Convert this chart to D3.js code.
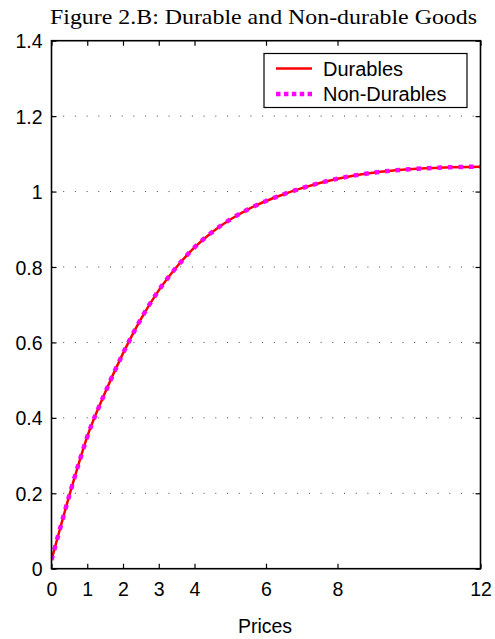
<!DOCTYPE html>
<html><head><meta charset="utf-8">
<script src="https://cdn.jsdelivr.net/npm/d3@7"></script>
<style>body{margin:0;background:#fff}svg{display:block}</style>
</head><body>
<svg id="c" width="495" height="639"></svg>
<script>
const prices = [0,0.25,0.5,0.75,1,1.5,2,2.5,3,3.5,4,4.5,5,5.5,6,6.5,7,8,9,10,11,12];
const durables = [0.023,0.11,0.195,0.275,0.35,0.467,0.571,0.662,0.738,0.800,0.852,0.893,0.926,0.953,0.975,0.993,1.009,1.034,1.050,1.059,1.064,1.066];
const nonDurables = [0.023,0.11,0.195,0.275,0.35,0.467,0.571,0.662,0.738,0.800,0.852,0.893,0.926,0.953,0.975,0.993,1.009,1.034,1.050,1.059,1.064,1.066];
const xTicks = [0,1,2,3,4,6,8,12];
const yTicks = [0,0.2,0.4,0.6,0.8,1,1.2,1.4];
const title = "Figure 2.B: Durable and Non-durable Goods";
const xLabel = "Prices";
const seriesNames = ["Durables","Non-Durables"];

const svg = d3.select("#c");
const L=51.5, R=480.5, T=40.7, B=568.7;
const x = d3.scaleLinear().domain([0,12]).range([L,R]);
const y = d3.scaleLinear().domain([0,1.4]).range([B,T]);
const sans = "'Liberation Sans', Arial, sans-serif";

// grid
svg.append("g").selectAll("line").data(yTicks.filter(v=>v>0&&v<1.4)).join("line")
  .attr("x1",L).attr("x2",R).attr("y1",d=>y(d)).attr("y2",d=>y(d))
  .attr("stroke","#444").attr("stroke-width",1).attr("stroke-dasharray","1,10.7");

// clip
svg.append("clipPath").attr("id","clip").append("rect")
  .attr("x",L).attr("y",T).attr("width",R-L).attr("height",B-T);

const line = d3.line().x(d=>x(d[0])).y(d=>y(d[1])).curve(d3.curveMonotoneX);
svg.append("path").datum(prices.map((p,i)=>[p,durables[i]]))
  .attr("d",line).attr("fill","none").attr("stroke","#ff0000").attr("stroke-width",2.5)
  .attr("clip-path","url(#clip)");
svg.append("path").datum(prices.map((p,i)=>[p,nonDurables[i]]))
  .attr("d",line).attr("fill","none").attr("stroke","#ff00ff").attr("stroke-width",4.5)
  .attr("stroke-dasharray","4.5,6").attr("clip-path","url(#clip)");

// axes
const ax = svg.append("g");
const tl=5;
const axB = d3.axisBottom(x).tickValues(xTicks).tickSize(-tl).tickPadding(13).tickFormat(d3.format("d"));
const axT = d3.axisTop(x).tickValues(xTicks).tickSize(-tl).tickFormat("");
const axL = d3.axisLeft(y).tickValues(yTicks).tickSize(-tl).tickPadding(9).tickFormat(d=>d3.format("")(+d.toFixed(1)));
const axR = d3.axisRight(y).tickValues(yTicks).tickSize(-tl).tickFormat("");
function style(g){
  g.select(".domain").remove();
  g.selectAll(".tick line").attr("stroke","#000").attr("stroke-width",1.2);
  g.selectAll("text").attr("font-family",sans).attr("font-size",19.5).attr("fill","#000");
}
ax.append("g").attr("transform",`translate(0,${B})`).call(axB).call(style).selectAll("text").attr("dy","0.75em");
ax.append("g").attr("transform",`translate(0,${T})`).call(axT).call(style);
ax.append("g").attr("transform",`translate(${L},0)`).call(axL).call(style).selectAll("text").attr("dy","0.36em");
ax.append("g").attr("transform",`translate(${R},0)`).call(axR).call(style);
svg.append("rect").attr("x",L).attr("y",T).attr("width",R-L).attr("height",B-T)
  .attr("fill","none").attr("stroke","#000").attr("stroke-width",1.6);

// labels
svg.append("text").attr("x",263.5).attr("y",24).attr("text-anchor","middle")
  .attr("font-family","'Liberation Serif','Times New Roman',serif").attr("font-size",21)
  .attr("textLength",427).attr("lengthAdjust","spacingAndGlyphs").text(title);
svg.append("text").attr("x",265).attr("y",633).attr("text-anchor","middle")
  .attr("font-family",sans).attr("font-size",19.5).text(xLabel);

// legend
const lg = svg.append("g");
lg.append("rect").attr("x",264).attr("y",53.5).attr("width",203).attr("height",54)
  .attr("fill","#fff").attr("stroke","#000").attr("stroke-width",1.2);
lg.append("line").attr("x1",276).attr("x2",312).attr("y1",68.5).attr("y2",68.5)
  .attr("stroke","#ff0000").attr("stroke-width",2.5);
lg.append("line").attr("x1",276).attr("x2",312).attr("y1",94).attr("y2",94)
  .attr("stroke","#ff00ff").attr("stroke-width",4.5).attr("stroke-dasharray","4.5,3.4");
lg.selectAll("text").data(seriesNames).join("text")
  .attr("x",323).attr("y",(d,i)=>[76,101][i]).attr("font-family",sans).attr("font-size",20)
  .text(d=>d);
</script>
</body></html>
